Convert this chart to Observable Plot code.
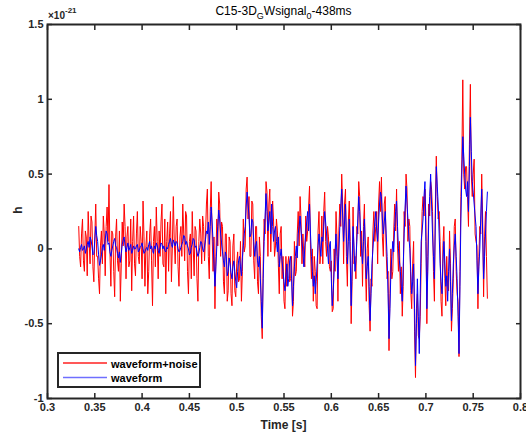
<!DOCTYPE html>
<html><head><meta charset="utf-8">
<script src="https://cdn.jsdelivr.net/npm/d3@7"></script>
<script src="https://cdn.jsdelivr.net/npm/@observablehq/plot@0.6"></script>
<style>
html,body{margin:0;padding:0;background:#fff;overflow:hidden;}
#wrap{position:relative;width:526px;height:436px;overflow:hidden;}
svg{overflow:hidden;}
</style></head><body><div id="wrap"></div>
<script>
// sampling grid (s)
const tStart = 0.333, tStep = 0.001;
// waveform (units of 1e-21)
const waveform = [
 0.00, -0.02, 0.01, 0.03, -0.01, 0.00, 0.02, -0.03, 0.00, 0.03, 0.05, 0.01, 0.08, 0.06, 0.02, -0.04, -0.03, 0.06, 0.15, 0.09,
 0.05, -0.04, -0.11, -0.08, -0.04, 0.01, 0.03, -0.01, 0.06, 0.12, 0.10, 0.03, 0.04, -0.02, -0.05, -0.01, 0.02, 0.05, 0.07, 0.02,
 0.01, -0.03, -0.06, -0.02, -0.09, -0.03, 0.03, 0.06, 0.08, 0.02, -0.02, 0.01, 0.04, -0.01, 0.01, 0.03, -0.03, -0.01, 0.02, 0.00,
 0.00, 0.02, 0.03, -0.02, -0.01, 0.01, 0.02, 0.04, 0.00, -0.03, -0.02, 0.00, 0.01, -0.01, 0.03, 0.05, 0.00, 0.02, -0.01, -0.03,
 0.02, 0.00, 0.04, 0.02, -0.01, -0.03, 0.01, 0.04, 0.03, 0.00, 0.02, -0.01, -0.02, 0.01, 0.00, 0.03, 0.05, 0.07, 0.03, 0.01,
 0.06, 0.04, 0.02, 0.05, 0.04, 0.00, -0.02, -0.01, 0.01, 0.03, 0.05, 0.09, 0.08, 0.03, 0.05, 0.02, 0.00, -0.04, -0.03, 0.01,
 0.03, 0.07, 0.06, 0.01, 0.02, -0.02, -0.05, -0.03, 0.01, 0.05, 0.04, 0.00, -0.02, 0.02, 0.06, 0.12, 0.10, 0.18, 0.03, 0.15,
 0.28, 0.18, 0.05, -0.10, -0.25, -0.12, 0.02, 0.15, 0.26, 0.20, 0.10, 0.04, -0.02, -0.08, -0.12, -0.02, -0.05, -0.18, -0.15, -0.06,
 -0.10, -0.16, -0.20, -0.12, -0.08, -0.15, -0.22, -0.26, -0.15, -0.08, -0.05, -0.12, -0.18, -0.06, 0.02, 0.10, 0.15, 0.28, 0.38, 0.30,
 0.22, 0.08, 0.10, 0.20, 0.18, 0.05, -0.05, 0.02, 0.05, -0.08, -0.12, -0.05, -0.20, -0.35, -0.53, -0.20, 0.05, 0.22, 0.37, 0.25,
 0.12, 0.18, 0.25, 0.10, 0.30, 0.15, 0.05, 0.12, 0.15, 0.05, -0.02, 0.08, -0.12, -0.05, 0.00, -0.08, -0.15, -0.22, -0.28, -0.18,
 -0.10, -0.25, -0.20, -0.08, -0.05, -0.20, -0.38, -0.25, -0.12, -0.05, 0.02, -0.06, 0.10, 0.15, 0.22, 0.12, 0.05, -0.02, -0.12, 0.02,
 0.10, 0.18, 0.25, 0.12, 0.30, 0.10, -0.05, -0.15, -0.25, -0.18, -0.30, -0.22, -0.10, 0.02, 0.10, 0.02, -0.05, 0.08, 0.05, 0.15,
 0.25, 0.18, 0.10, 0.00, -0.10, 0.02, 0.05, -0.20, -0.38, -0.28, -0.15, -0.02, 0.10, -0.05, -0.20, -0.02, 0.15, 0.28, 0.40, 0.22,
 0.05, 0.18, 0.30, 0.08, -0.10, 0.05, 0.20, -0.08, -0.38, -0.10, 0.15, 0.02, -0.15, -0.08, 0.05, 0.20, 0.35, 0.25, 0.10, 0.00,
 -0.10, 0.05, 0.20, 0.02, -0.20, -0.12, -0.05, -0.25, -0.48, -0.30, -0.10, 0.00, 0.10, 0.18, 0.25, 0.12, 0.05, 0.18, 0.30, 0.38,
 0.35, 0.20, 0.10, 0.18, 0.25, 0.10, -0.05, -0.30, -0.60, -0.40, -0.15, -0.05, 0.05, -0.02, 0.15, 0.25, 0.32, 0.15, 0.00, -0.08,
 -0.15, -0.25, -0.35, -0.12, 0.10, 0.28, 0.42, 0.30, 0.20, 0.08, 0.00, -0.15, -0.30, -0.22, -0.10, -0.40, -0.78, -0.50, -0.20, -0.45,
 -0.70, -0.30, 0.05, 0.12, 0.20, 0.35, 0.45, 0.05, -0.40, -0.15, 0.20, 0.35, 0.50, 0.30, 0.10, -0.05, -0.20, 0.20, 0.55, 0.42,
 0.30, 0.10, -0.10, -0.22, -0.30, -0.10, 0.05, -0.08, -0.25, -0.18, -0.35, -0.15, 0.00, -0.22, -0.48, -0.30, -0.10, 0.02, 0.10, -0.05,
 -0.20, -0.45, -0.70, -0.25, 0.20, 0.50, 0.75, 0.62, 0.50, 0.40, 0.35, 0.45, 0.25, 0.55, 0.88, 0.65, 0.45, 0.38, 0.30, 0.22,
 0.15, -0.08, -0.30, -0.12, 0.00, 0.22, 0.40, 0.10, -0.20, -0.05, 0.10, 0.25, 0.38
];
// waveform + noise (units of 1e-21)
const waveformNoise = [
 0.15, -0.05, -0.12, 0.10, 0.20, -0.08, -0.15, 0.12, 0.08, -0.18, 0.25, 0.05, -0.10, 0.22, 0.18, -0.12, -0.22, 0.08, 0.30, -0.05,
 -0.05, -0.20, -0.30, 0.02, 0.12, -0.10, 0.22, 0.10, -0.18, 0.15, 0.28, 0.05, 0.43, -0.02, -0.25, 0.12, 0.10, -0.15, -0.32, 0.08,
 0.20, -0.08, -0.15, 0.12, -0.35, -0.10, 0.18, 0.02, 0.30, 0.15, -0.20, 0.08, 0.15, -0.12, -0.08, 0.20, -0.28, 0.05, 0.22, -0.10,
 -0.18, 0.10, 0.25, -0.05, -0.10, 0.15, 0.05, -0.20, 0.32, 0.08, -0.25, 0.02, 0.12, -0.30, -0.15, 0.10, 0.20, -0.08, -0.38, 0.05,
 0.15, -0.12, 0.28, 0.05, -0.20, 0.12, -0.05, 0.18, 0.30, -0.10, -0.12, 0.20, -0.30, 0.05, 0.18, -0.15, 0.10, 0.25, -0.22, 0.02,
 0.35, 0.05, -0.10, 0.15, 0.20, -0.12, -0.25, 0.08, 0.15, -0.05, 0.30, 0.10, -0.08, 0.25, 0.22, -0.15, -0.30, 0.05, 0.10, -0.20,
 0.25, 0.02, -0.18, 0.15, 0.12, -0.20, -0.35, 0.05, 0.20, 0.10, -0.10, 0.22, 0.15, -0.08, 0.08, 0.30, 0.40, -0.05, -0.20, 0.25,
 0.45, 0.10, -0.15, 0.08, -0.40, -0.05, 0.20, 0.02, 0.38, 0.30, -0.05, 0.18, 0.15, -0.22, -0.30, 0.10, 0.10, -0.35, -0.28, 0.08,
 0.05, -0.30, -0.38, 0.02, 0.10, -0.28, -0.32, -0.10, -0.02, -0.22, -0.20, 0.05, -0.35, -0.15, 0.20, -0.02, 0.02, 0.40, 0.48, 0.20,
 0.35, -0.05, -0.05, 0.32, 0.30, -0.08, -0.20, 0.15, 0.15, -0.22, -0.30, 0.08, -0.05, -0.45, -0.60, -0.10, 0.20, 0.10, 0.45, 0.38,
 -0.05, 0.30, 0.40, -0.02, 0.20, 0.32, 0.18, -0.05, 0.02, 0.20, 0.12, -0.10, -0.30, 0.10, 0.15, -0.20, -0.05, -0.35, -0.40, -0.05,
 -0.25, -0.10, -0.05, -0.22, -0.20, -0.05, -0.45, -0.35, 0.05, -0.18, -0.15, 0.10, 0.25, 0.02, 0.35, 0.20, -0.10, 0.10, -0.05, -0.12,
 0.22, 0.05, 0.12, 0.28, 0.42, 0.00, -0.20, 0.00, -0.35, -0.05, -0.15, -0.38, -0.40, 0.12, 0.25, -0.10, 0.00, 0.22, -0.10, 0.25,
 0.38, 0.05, -0.05, 0.15, 0.08, -0.12, -0.15, -0.08, -0.42, -0.40, 0.00, -0.15, 0.25, 0.08, -0.35, 0.12, 0.30, 0.15, 0.50, 0.30,
 -0.10, 0.30, 0.40, -0.05, -0.25, 0.18, 0.32, 0.05, -0.50, -0.22, 0.28, -0.10, -0.05, -0.20, 0.15, 0.10, 0.45, 0.35, -0.05, 0.12,
 -0.25, 0.15, 0.30, -0.10, -0.35, 0.00, 0.08, -0.38, -0.55, -0.20, -0.25, 0.12, 0.25, 0.05, 0.15, 0.25, -0.10, 0.30, 0.45, 0.25,
 0.48, 0.08, -0.05, 0.30, 0.35, -0.02, -0.20, -0.15, -0.68, -0.30, 0.00, -0.20, -0.15, 0.12, 0.30, 0.12, 0.40, 0.02, -0.15, 0.05,
 -0.30, -0.12, -0.45, -0.25, 0.25, 0.15, 0.50, 0.40, 0.05, 0.20, 0.15, -0.28, -0.40, -0.10, 0.05, -0.55, -0.86, -0.40, -0.30, -0.58,
 -0.60, -0.45, -0.10, 0.25, 0.35, 0.22, 0.40, 0.20, -0.50, -0.05, 0.30, 0.22, 0.45, 0.40, 0.25, -0.15, -0.35, 0.30, 0.62, 0.35,
 0.20, 0.25, 0.05, -0.35, -0.45, 0.02, 0.15, -0.20, -0.38, -0.05, -0.25, -0.28, 0.12, -0.10, -0.55, -0.40, -0.20, 0.15, 0.20, -0.15,
 -0.30, -0.35, -0.72, -0.15, 0.35, 0.60, 1.13, 0.50, 0.40, 0.55, 0.55, 0.35, 0.15, 0.70, 1.10, 0.50, 0.35, 0.50, 0.60, 0.10,
 0.05, 0.02, -0.40, -0.05, 0.15, 0.10, 0.50, 0.20, -0.32, 0.08, 0.25, -0.05, -0.33
];
const xTicks = [0.3, 0.35, 0.4, 0.45, 0.5, 0.55, 0.6, 0.65, 0.7, 0.75, 0.8];
const xTickLabels = ["0.3","0.35","0.4","0.45","0.5","0.55","0.6","0.65","0.7","0.75","0.8"];
const yTicks = [-1, -0.5, 0, 0.5, 1, 1.5];
const yTickLabels = ["-1","-0.5","0","0.5","1","1.5"];
const seriesNames = ["waveform+noise", "waveform"];
const seriesColors = ["#ff0000", "#0000ff"];
const legendColors = ["#ff2020", "#6f6fff"];

const rows = (vals) => vals.map((v, i) => ({t: tStart + i * tStep, h: v}));
const ink = "#262626";
const font = "'Liberation Sans', Arial, Helvetica, sans-serif";

const chart = Plot.plot({
  width: 526, height: 436,
  marginLeft: 47, marginRight: 6, marginTop: 24, marginBottom: 38,
  x: {domain: [0.3, 0.8]},
  y: {domain: [-1, 1.5]},
  style: {fontFamily: font, fontSize: "11px", color: ink, background: "#fff", overflow: "hidden"},
  marks: [
    Plot.lineY(rows(waveformNoise), {x: "t", y: "h", stroke: seriesColors[0], strokeWidth: 1}),
    Plot.lineY(rows(waveform), {x: "t", y: "h", stroke: seriesColors[1], strokeWidth: 1}),
    Plot.axisX({ticks: xTicks, tickSize: -5, tickPadding: 10, strokeWidth: 1.5, stroke: ink,
      tickFormat: d => xTickLabels[xTicks.indexOf(d)], fontWeight: "bold", label: null}),
    Plot.axisX({anchor: "top", ticks: xTicks, tickSize: -5, strokeWidth: 1.5, stroke: ink,
      tickFormat: () => "", label: null}),
    Plot.axisY({ticks: yTicks, tickSize: -5, tickPadding: 9, strokeWidth: 1.5, stroke: ink,
      tickFormat: d => yTickLabels[yTicks.indexOf(d)], fontWeight: "bold", label: null}),
    Plot.axisY({anchor: "right", ticks: yTicks, tickSize: -5, strokeWidth: 1.5, stroke: ink,
      tickFormat: () => "", label: null}),
    Plot.frame({stroke: ink, strokeWidth: 2})
  ]
});
document.getElementById("wrap").appendChild(chart);

const svg = d3.select(chart);
// title
const title = svg.append("text").attr("x", 283.5).attr("y", 15).attr("text-anchor", "middle")
  .attr("font-family", font).attr("font-size", 12).attr("fill", "#000");
title.append("tspan").text("C15-3D");
title.append("tspan").attr("font-size", 9).attr("dy", 4).text("G");
title.append("tspan").attr("dy", -4).text("Wsignal");
title.append("tspan").attr("font-size", 9).attr("dy", 4).text("0");
title.append("tspan").attr("dy", -4).text("-438ms");
// exponent
const ex = svg.append("text").attr("x", 48).attr("y", 19).attr("text-anchor", "start")
  .attr("font-family", font).attr("font-size", 10).attr("font-weight", "bold").attr("fill", ink);
ex.append("tspan").text("×10");
ex.append("tspan").attr("font-size", 8).attr("dy", -6).text("-21");
// axis labels
svg.append("text").attr("x", 283.5).attr("y", 429).attr("text-anchor", "middle")
  .attr("font-family", font).attr("font-size", 12).attr("font-weight", "bold").attr("fill", ink)
  .text("Time [s]");
svg.append("text").attr("transform", "translate(22,210) rotate(-90)").attr("text-anchor", "middle")
  .attr("font-family", font).attr("font-size", 12).attr("font-weight", "bold").attr("fill", ink)
  .text("h");
// legend
const lg = svg.append("g");
lg.append("rect").attr("x", 58).attr("y", 353).attr("width", 142).attr("height", 34)
  .attr("fill", "#fff").attr("stroke", ink).attr("stroke-width", 2);
seriesNames.forEach((name, i) => {
  const y = 363 + i * 14.5;
  lg.append("path").attr("d", `M63,${y}H107`).attr("fill", "none")
    .style("stroke", legendColors[i]).style("stroke-width", "1.6px");
  lg.append("text").attr("x", 111).attr("y", y + 4.5).attr("text-anchor", "start").attr("font-family", font)
    .attr("font-size", 11).attr("font-weight", "bold").attr("fill", "#000").text(name);
});
</script></body></html>
